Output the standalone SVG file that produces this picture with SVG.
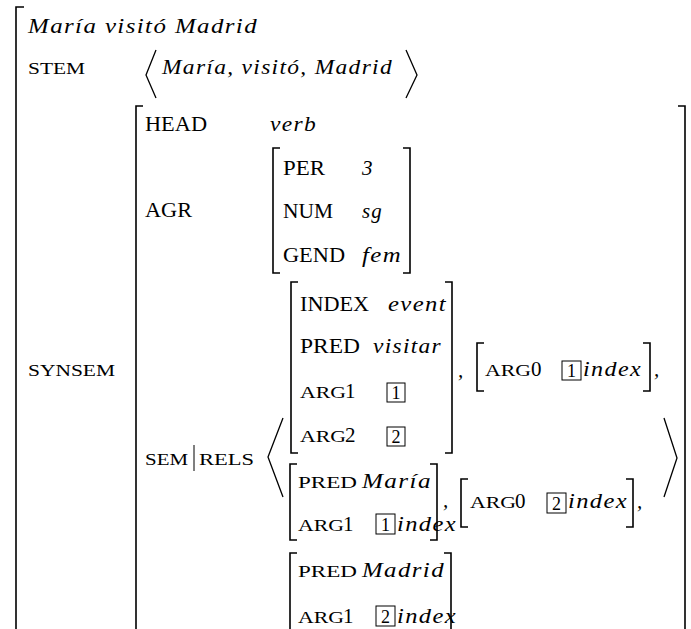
<svg xmlns="http://www.w3.org/2000/svg" width="691" height="629" viewBox="0 0 691 629">
<style>
text{font-family:"Liberation Serif","Times New Roman",serif;fill:#000}
.it{font-style:italic;font-size:21px;letter-spacing:1.2px}
.cap{font-size:21px}
.sc{font-size:16.5px}
.dg{font-size:21px}
.bd{font-size:18px;text-anchor:middle}
.br{fill:none;stroke:#000;stroke-width:1.6}
.ang{fill:none;stroke:#000;stroke-width:1.3}
.box{fill:none;stroke:#000;stroke-width:1}
</style>
<rect width="691" height="629" fill="#fff"/>
<g id="brackets">
<path class="br" d="M24,7H16V640"/>
<path class="br" d="M143,106H136V640"/>
<path class="br" d="M678,106H685V640"/>
<path class="br" d="M280,148H273V273H280"/>
<path class="br" d="M403,148H410V273H403"/>
<path class="br" d="M298,282H291V453H298"/>
<path class="br" d="M445,282H452V453H445"/>
<path class="br" d="M484,343H477V391H484"/>
<path class="br" d="M643,343H650V391H643"/>
<path class="br" d="M297,464H290V540H297"/>
<path class="br" d="M430,464H437V540H430"/>
<path class="br" d="M468,479H461V527H468"/>
<path class="br" d="M626,479H633V527H626"/>
<path class="br" d="M297,553H290V640"/>
<path class="br" d="M444,553H451V640"/>
<path class="ang" d="M156,50L146,75L156,98"/>
<path class="ang" d="M406,50L417,75L406,98"/>
<path class="ang" d="M283,418L268,457L283,497"/>
<path class="ang" d="M664,418L677,458L664,497"/>
<line x1="194" y1="445" x2="194" y2="471" stroke="#000" stroke-width="1"/>
</g>
<g id="top">
<text class="it" x="28" y="33" textLength="230" lengthAdjust="spacingAndGlyphs">María visitó Madrid</text>
<text class="sc" x="28" y="74" textLength="57" lengthAdjust="spacingAndGlyphs">STEM</text>
<text class="it" x="162" y="74" textLength="231" lengthAdjust="spacingAndGlyphs">María, visitó, Madrid</text>
<text class="sc" x="28" y="376" textLength="87" lengthAdjust="spacingAndGlyphs">SYNSEM</text>
</g>
<g id="head">
<text class="cap" x="145" y="131" textLength="62" lengthAdjust="spacingAndGlyphs">HEAD</text>
<text class="it" x="270" y="131" textLength="47" lengthAdjust="spacingAndGlyphs">verb</text>
</g>
<g id="agr">
<text class="cap" x="145" y="217" textLength="47" lengthAdjust="spacingAndGlyphs">AGR</text>
<text class="cap" x="283" y="175" textLength="42" lengthAdjust="spacingAndGlyphs">PER</text>
<text class="it" x="362" y="175">3</text>
<text class="cap" x="283" y="218" textLength="50" lengthAdjust="spacingAndGlyphs">NUM</text>
<text class="it" x="362" y="218" textLength="21" lengthAdjust="spacingAndGlyphs">sg</text>
<text class="cap" x="283" y="262" textLength="62" lengthAdjust="spacingAndGlyphs">GEND</text>
<text class="it" x="362" y="262" textLength="40" lengthAdjust="spacingAndGlyphs">fem</text>
</g>
<g id="semrels">
<text class="sc" x="145" y="465" textLength="43" lengthAdjust="spacingAndGlyphs">SEM</text>
<text class="sc" x="199" y="465" textLength="55" lengthAdjust="spacingAndGlyphs">RELS</text>
</g>
<g id="rel1">
<text class="cap" x="300" y="311" textLength="69" lengthAdjust="spacingAndGlyphs">INDEX</text>
<text class="it" x="388" y="311" textLength="59" lengthAdjust="spacingAndGlyphs">event</text>
<text class="cap" x="300" y="353" textLength="60" lengthAdjust="spacingAndGlyphs">PRED</text>
<text class="it" x="373" y="353" textLength="69" lengthAdjust="spacingAndGlyphs">visitar</text>
<text class="sc" x="300" y="398" textLength="46" lengthAdjust="spacingAndGlyphs">ARG</text>
<text class="dg" x="345" y="398">1</text>
<rect class="box" x="387" y="383" width="18" height="19"/>
<text class="bd" x="396" y="399">1</text>
<text class="sc" x="300" y="442" textLength="46" lengthAdjust="spacingAndGlyphs">ARG</text>
<text class="dg" x="345" y="442">2</text>
<rect class="box" x="387" y="427" width="18" height="19"/>
<text class="bd" x="396" y="443">2</text>
<text class="it" x="458" y="377">,</text>
</g>
<g id="rel2">
<text class="sc" x="485" y="376" textLength="46" lengthAdjust="spacingAndGlyphs">ARG</text>
<text class="dg" x="531" y="376">0</text>
<rect class="box" x="562" y="361" width="19" height="19"/>
<text class="bd" x="571.5" y="377">1</text>
<text class="it" x="583" y="376" textLength="59" lengthAdjust="spacingAndGlyphs">index</text>
<text class="it" x="654" y="376">,</text>
</g>
<g id="rel3">
<text class="sc" x="298" y="488" textLength="59" lengthAdjust="spacingAndGlyphs">PRED</text>
<text class="it" x="362" y="488" textLength="70" lengthAdjust="spacingAndGlyphs" font-size="22">María</text>
<text class="sc" x="298" y="531" textLength="46" lengthAdjust="spacingAndGlyphs">ARG</text>
<text class="dg" x="343" y="531">1</text>
<rect class="box" x="376" y="514" width="19" height="20"/>
<text class="bd" x="385.5" y="531">1</text>
<text class="it" x="397" y="531" textLength="60" lengthAdjust="spacingAndGlyphs">index</text>
<text class="it" x="443" y="507">,</text>
</g>
<g id="rel4">
<text class="sc" x="470" y="508" textLength="46" lengthAdjust="spacingAndGlyphs">ARG</text>
<text class="dg" x="515" y="508">0</text>
<rect class="box" x="547" y="493" width="19" height="20"/>
<text class="bd" x="556.5" y="510">2</text>
<text class="it" x="568" y="508" textLength="60" lengthAdjust="spacingAndGlyphs">index</text>
<text class="it" x="637" y="508">,</text>
</g>
<g id="rel5">
<text class="sc" x="298" y="577" textLength="59" lengthAdjust="spacingAndGlyphs">PRED</text>
<text class="it" x="362" y="577" textLength="83" lengthAdjust="spacingAndGlyphs" font-size="22">Madrid</text>
<text class="sc" x="298" y="623" textLength="46" lengthAdjust="spacingAndGlyphs">ARG</text>
<text class="dg" x="343" y="623">1</text>
<rect class="box" x="376" y="606" width="19" height="20"/>
<text class="bd" x="385.5" y="623">2</text>
<text class="it" x="397" y="623" textLength="60" lengthAdjust="spacingAndGlyphs">index</text>
</g>
</svg>
